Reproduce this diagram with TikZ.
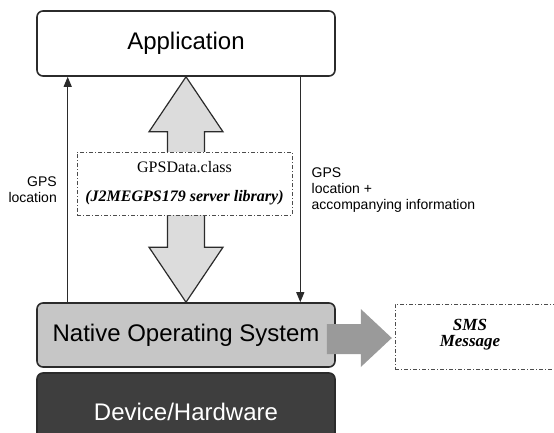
\documentclass[tikz,border=0pt]{standalone}
\usepackage{fontspec}
\setmainfont{Liberation Serif}
\setsansfont{Liberation Sans}
\usetikzlibrary{arrows.meta,calc}

\definecolor{osgray}{HTML}{C6C6C6}
\definecolor{hwgray}{HTML}{3E3E3E}
\definecolor{pipegray}{HTML}{DCDCDC}
\definecolor{smsgray}{HTML}{9A9A9A}
\definecolor{edgegray}{HTML}{2B2B2B}

\begin{document}
\begin{tikzpicture}[x=1pt, y=-1pt,  % pixel-like units, y pointing down
    layer/.style={draw=edgegray, line width=1.6pt, rounded corners=6pt,
      minimum width=298pt, minimum height=65pt, inner sep=0pt,
      font=\sffamily\fontsize{24}{28}\selectfont},
    dashbox/.style={draw=black!70, line width=0.8pt, fill=white,
      dash pattern=on 4pt off 2pt on 1pt off 2pt},
    lbl/.style={inner sep=0pt, font=\sffamily\fontsize{14}{16}\selectfont},
    flow/.style={draw=edgegray, line width=1.2pt, -{Triangle[length=10pt,width=8pt]}}]
    \useasboundingbox (0,0) rectangle (554,432);
    \clip (0,0) rectangle (554,432);

    % Draw the three layers
    \node[layer, fill=white] (app) at (186,43.5) {Application};
    \node[layer, fill=osgray, minimum height=64pt] (nos) at (186,335) {Native Operating System};
    \node[layer, fill=hwgray, text=white, minimum height=78pt] (dev) at (186,412) {Device/Hardware};

    % Draw the location arrows on both sides
    \draw[flow] ([xshift=31.5pt]nos.north west) -- ([xshift=31.5pt]app.south west);
    \draw[flow] ([xshift=-35.5pt]app.south east) -- ([xshift=-35.5pt]nos.north east);
    \node[lbl, anchor=east, align=right] (locL) at (57,190) {GPS\\location};
    \node[lbl, anchor=west, align=left] (locR) at (311.5,190) {GPS\\location +\\accompanying information};

    % Draw the big two-way arrow, then the library box over it
    \draw[draw=edgegray, line width=1.2pt, fill=pipegray]
      (app.south) -- ++(37,55) -- ++(-18.5,0) -- ($(nos.north)+(18.5,-55)$)
      -- ++(18.5,0) -- (nos.north) -- ++(-37,-55) -- ++(18.5,0)
      -- ($(app.south)+(-18.5,55)$) -- ++(-18.5,0) -- cycle;
    \node[dashbox, minimum width=215pt, minimum height=63pt, align=center,
      font=\fontsize{16}{19}\selectfont] (lib) at (184.5,183.5)
      {GPSData.class\\[10pt]\textbf{\textit{(J2MEGPS179 server library)}}};

    % Draw the arrow out to the SMS box
    \fill[smsgray] ($(nos.east)+(-9,-11)$) -- ++(34,0) -- ++(0,-15) -- ++(31,29)
      -- ++(-31,29) -- ++(0,-13) -- ++(-34,0) -- cycle;
    \node[dashbox, minimum width=170pt, minimum height=65pt] (sms) at (480,336.5) {};
    \node[inner sep=0pt, align=center, font=\bfseries\itshape\fontsize{17}{16}\selectfont]
      (smsText) at (470,335) {SMS\\Message};
\end{tikzpicture}
\end{document}
